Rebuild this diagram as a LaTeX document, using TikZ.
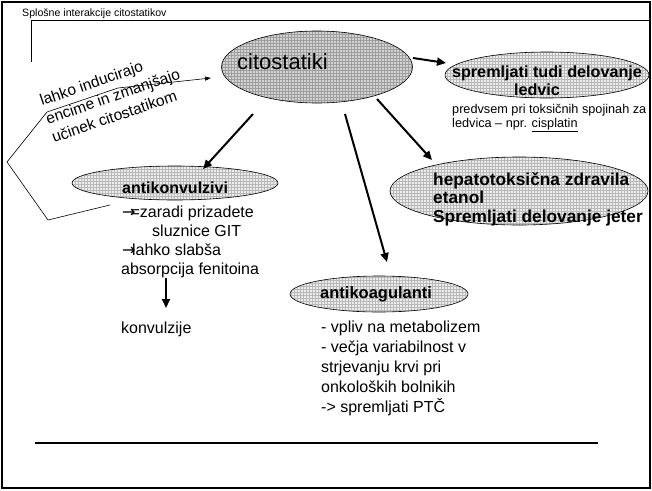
\documentclass[tikz,border=0pt]{standalone}
\usepackage{fontspec}
\setmainfont{Liberation Sans}
\newfontfamily\djv{DejaVu Sans}
\usetikzlibrary{arrows.meta,patterns,shapes.geometric}
\begin{document}
\begin{tikzpicture}[x=1pt,y=-1pt,
  bubble/.style={ellipse, draw=black, line width=0.6pt, inner sep=0pt,
    preaction={fill=gray!15}, pattern=grid, pattern color=gray!55},
  darkbubble/.style={bubble, preaction={fill=gray!35}, pattern color=gray!75},
  txt/.style={anchor=base west, inner sep=0pt, font=\fontsize{16}{19}\selectfont},
  btxt/.style={txt, font=\fontsize{16.5}{19}\selectfont\bfseries},
  small/.style={txt, font=\fontsize{12.7}{15}\selectfont},
  rottxt/.style={txt, font=\fontsize{15.5}{18}\selectfont, rotate=19},
  fat/.style={line width=2pt, -{Triangle[length=9pt,width=8pt]}},
  thin/.style={line width=0.6pt},
  thinarrow/.style={thin, -{Triangle[length=6pt,width=4pt]}}]
\useasboundingbox (0,0) rectangle (652,490);
% frame
\draw[line width=2pt] (2,2) rectangle (650,488);
% header
\node[anchor=base west, inner sep=0pt, font=\fontsize{10.6}{12}\selectfont] (head) at (22,16.5) {Splošne interakcije citostatikov};
\coordinate (hl) at (31,20);
\coordinate (hr) at (650,20);
\coordinate (hv) at (31,62);
\draw[line width=0.8pt] (hr) -- (hl) -- (hv);
% ellipses
\node[darkbubble, minimum width=191pt, minimum height=72pt] (cito) at (317,67) {};
\node[bubble, minimum width=204pt, minimum height=46pt] (sprem) at (547,75) {};
\node[bubble, minimum width=258pt, minimum height=68pt] (hepa) at (519,191) {};
\node[bubble, minimum width=206pt, minimum height=34pt] (konv) at (175,183) {};
\node[bubble, minimum width=178pt, minimum height=36pt] (koag) at (379,294) {};
% ellipse texts
\node[txt, font=\fontsize{22}{26}\selectfont] (citot) at (237,69) {citostatiki};
\node[anchor=base, inner sep=0pt, font=\fontsize{16.2}{18}\selectfont\bfseries] (sp1) at (547,77) {spremljati tudi delovanje};
\node[anchor=base, inner sep=0pt, font=\fontsize{16.2}{18}\selectfont\bfseries] (sp2) at (537,95) {ledvic};
\node[small] (pr1) at (452,113) {predvsem pri toksičnih spojinah za};
\node[small] (pr2) at (452,127.5) {ledvica – npr. \underline{cisplatin}};
\node[txt, font=\fontsize{17.3}{19}\selectfont\bfseries] (hp1) at (433,185) {hepatotoksična zdravila};
\node[txt, font=\fontsize{17.3}{19}\selectfont\bfseries] (hp2) at (433,203.5) {etanol};
\node[txt, font=\fontsize{17.3}{19}\selectfont\bfseries] (hp3) at (433,222) {Spremljati delovanje jeter};
\node[btxt, font=\fontsize{16}{19}\selectfont\bfseries] (kvt) at (122,193) {antikonvulzivi};
\node[txt] (kv1) at (122,217) {{\djv →}\kern-5pt=zaradi prizadete};
\node[txt] (kv2) at (152,236) {sluznice GIT};
\node[txt] (kv3) at (122,255) {{\djv →}\kern-3.5pt lahko slabša};
\node[txt] (kv4) at (121,274) {absorpcija fenitoina};
\node[txt] (kvz) at (121,333) {konvulzije};
\node[btxt] (kgt) at (320,298) {antikoagulanti};
\node[txt] (kg1) at (321,332) {- vpliv na metabolizem};
\node[txt] (kg2) at (321,352) {- večja variabilnost v};
\node[txt] (kg3) at (321,372) {strjevanju krvi pri};
\node[txt] (kg4) at (321,392) {onkoloških bolnikih};
\node[txt] (kg5) at (321,412) {-> spremljati PTČ};
% rotated text
\node[rottxt] (lk1) at (42,106) {lahko inducirajo};
\node[rottxt] (lk2) at (48,124.5) {encime in zmanjšajo};
\node[rottxt] (lk3) at (54,143) {učinek citostatikom};
% bracket
\coordinate (bv) at (7,162);
\coordinate (bu1) at (47,112);
\coordinate (bu2) at (118,88);
\coordinate (bue) at (211,78);
\coordinate (bl1) at (48,220);
\coordinate (ble) at (110,205);
\draw[thinarrow] (bv) -- (bu1) -- (bu2) -- (bue);
\draw[thin] (bv) -- (bl1) -- (ble);
% thick arrows
\coordinate (a1s) at (253,114); \coordinate (a1e) at (203,169);
\coordinate (a2s) at (345,114); \coordinate (a2e) at (387,262);
\coordinate (a3s) at (377,99);  \coordinate (a3e) at (432,160);
\coordinate (a4s) at (413,58);  \coordinate (a4e) at (446,63);
\coordinate (a5s) at (166,278); \coordinate (a5e) at (166,308);
\draw[fat] (a1s) -- (a1e);
\draw[fat] (a2s) -- (a2e);
\draw[fat] (a3s) -- (a3e);
\draw[fat] (a4s) -- (a4e);
\draw[fat] (a5s) -- (a5e);
% bottom line
\coordinate (bll) at (35,443);
\coordinate (blr) at (598,443);
\draw[line width=2.5pt] (bll) -- (blr);
\end{tikzpicture}
\end{document}
